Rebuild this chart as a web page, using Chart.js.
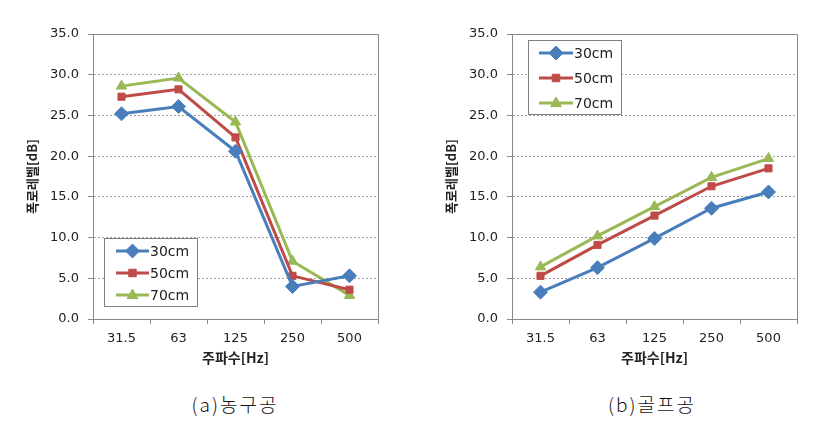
<!DOCTYPE html>
<html>
<head>
<meta charset="utf-8">
<script src="https://cdn.jsdelivr.net/npm/chart.js@4/dist/chart.umd.min.js"></script>
<style>
html,body{margin:0;padding:0;background:#fff;}
body{width:822px;height:428px;position:relative;overflow:hidden;font-family:"Noto Sans CJK KR","Noto Sans",sans-serif;}
.wrap{position:absolute;top:0;width:400px;height:380px;}
.cap{position:absolute;top:391px;font-size:19px;letter-spacing:2px;color:#111;transform:translateX(-50%);white-space:nowrap;font-family:"Noto Sans CJK KR",sans-serif;font-weight:300;line-height:26px;}
</style>
</head>
<body>
<div class="wrap" style="left:0px"><canvas id="c1" width="400" height="380"></canvas></div>
<div class="wrap" style="left:419px"><canvas id="c2" width="400" height="380"></canvas></div>
<div class="cap" style="left:235px">(a)농구공</div>
<div class="cap" style="left:652px">(b)골프공</div>
<script>
const categories = ["31.5", "63", "125", "250", "500"];
const seriesNames = ["30cm", "50cm", "70cm"];
const yTicks = [0, 5, 10, 15, 20, 25, 30, 35];

const basket30 = [25.2, 26.1, 20.6, 4.0, 5.3];
const basket50 = [27.3, 28.2, 22.3, 5.3, 3.6];
const basket70 = [28.6, 29.6, 24.2, 7.1, 2.9];

const golf30 = [3.3, 6.3, 9.9, 13.6, 15.6];
const golf50 = [5.3, 9.1, 12.7, 16.3, 18.5];
const golf70 = [6.4, 10.2, 13.8, 17.4, 19.7];

const yTitle = "폭로레벨[dB]";
const xTitle = "주파수[Hz]";

const styles = [
  {color:"#4A7EBB", pointStyle:"rectRot", radius:7},
  {color:"#BE4B48", pointStyle:"rect", radius:5},
  {color:"#98B954", pointStyle:"triangle", radius:6}
];

function makeDatasets(arrs){
  return arrs.map((d,i)=>({
    label: seriesNames[i],
    data: d,
    borderColor: styles[i].color,
    backgroundColor: styles[i].color,
    borderWidth: 3,
    pointStyle: styles[i].pointStyle,
    pointRadius: styles[i].radius,
    pointBorderWidth: 1,
    tension: 0
  }));
}

const boxPlugin = {
  id:'boxPlugin',
  afterDraw(chart, args, opts){
    const ctx = chart.ctx, a = chart.chartArea;
    ctx.save();
    ctx.strokeStyle = '#8a8a8a';
    ctx.lineWidth = 1;
    ctx.beginPath();
    ctx.moveTo(Math.round(a.left)+0.5, Math.round(a.bottom)+0.5);
    ctx.lineTo(Math.round(a.left)+0.5, Math.round(a.top)+0.5);
    ctx.lineTo(Math.round(a.right)+0.5, Math.round(a.top)+0.5);
    ctx.lineTo(Math.round(a.right)+0.5, Math.round(a.bottom)+0.5);
    ctx.lineTo(Math.round(a.left)+0.5, Math.round(a.bottom)+0.5);
    ctx.stroke();
    // legend
    const L = opts;
    ctx.fillStyle = '#fff';
    ctx.fillRect(L.x, L.y, L.w, L.h);
    ctx.strokeStyle = '#7f7f7f';
    ctx.strokeRect(L.x+0.5, L.y+0.5, L.w, L.h);
    chart.data.datasets.forEach((ds,i)=>{
      const yy = L.y + L.first + i*L.gap;
      ctx.strokeStyle = ds.borderColor;
      ctx.lineWidth = 3;
      ctx.beginPath();
      ctx.moveTo(L.x + L.lx0, yy);
      ctx.lineTo(L.x + L.lx1, yy);
      ctx.stroke();
      const mx = L.x + (L.lx0+L.lx1)/2;
      ctx.fillStyle = ds.backgroundColor;
      ctx.strokeStyle = ds.borderColor;
      ctx.lineWidth = 1;
      ctx.beginPath();
      const r = ds.pointRadius;
      if(ds.pointStyle==='rectRot'){
        ctx.moveTo(mx, yy-r); ctx.lineTo(mx+r, yy); ctx.lineTo(mx, yy+r); ctx.lineTo(mx-r, yy); ctx.closePath();
      } else if(ds.pointStyle==='rect'){
        ctx.rect(mx-r*0.75, yy-r*0.75, r*1.5, r*1.5);
      } else {
        ctx.moveTo(mx, yy-r); ctx.lineTo(mx+r*0.9, yy+r*0.6); ctx.lineTo(mx-r*0.9, yy+r*0.6); ctx.closePath();
      }
      ctx.fill(); ctx.stroke();
      ctx.fillStyle = '#222';
      ctx.font = '14px "DejaVu Sans", sans-serif';
      ctx.textBaseline = 'middle';
      ctx.textAlign = 'left';
      ctx.fillText(ds.label, L.x + L.lx1 + 1, yy+1);
    });
    ctx.restore();
  }
};

function makeChart(id, arrs, legendOpts){
  return new Chart(document.getElementById(id), {
    type:'line',
    data:{labels:categories, datasets:makeDatasets(arrs)},
    plugins:[boxPlugin],
    options:{
      responsive:false,
      animation:false,
      devicePixelRatio:1,
      layout:{padding:{top:34, right:22, bottom:0, left:0}},
      plugins:{legend:{display:false}, tooltip:{enabled:false}, boxPlugin:legendOpts},
      scales:{
        x:{
          offset:true,
          grid:{offset:true, drawOnChartArea:false, tickLength:5, color:'#8a8a8a'},
          border:{display:true, color:'#8a8a8a'},
          ticks:{color:'#222', font:{family:'"DejaVu Sans", sans-serif', size:13}, padding:7},
          title:{display:true, text:xTitle, color:'#222', font:{family:'"Noto Sans CJK KR", sans-serif', size:14, weight:'bold'}, padding:{top:0, bottom:14}},
          afterFit(s){ s.height = 61; }
        },
        y:{
          min:0, max:35,
          afterBuildTicks(s){ s.ticks = yTicks.map(v=>({value:v})); },
          grid:{color:'#a0a0a0', tickLength:5, tickColor:'#8a8a8a'},
          border:{display:true, color:'#8a8a8a', dash:(c)=> (c.tick && (c.tick.value===0||c.tick.value===35)) ? [] : [2,2]},
          ticks:{color:'#222', font:{family:'"DejaVu Sans", sans-serif', size:13}, padding:9, callback:(v)=>Number(v).toFixed(1)},
          title:{display:true, text:yTitle, color:'#222', font:{family:'"Noto Sans CJK KR", sans-serif', size:13, weight:'bold'}, padding:{top:24, bottom:0}},
          afterFit(s){ s.width = 93; }
        }
      }
    }
  });
}

makeChart('c1', [basket30, basket50, basket70], {x:104, y:238, w:93, h:68, first:13, gap:22, lx0:12, lx1:45});
makeChart('c2', [golf30, golf50, golf70], {x:109, y:40, w:93, h:74, first:13, gap:25, lx0:11, lx1:45});
</script>
</body>
</html>
